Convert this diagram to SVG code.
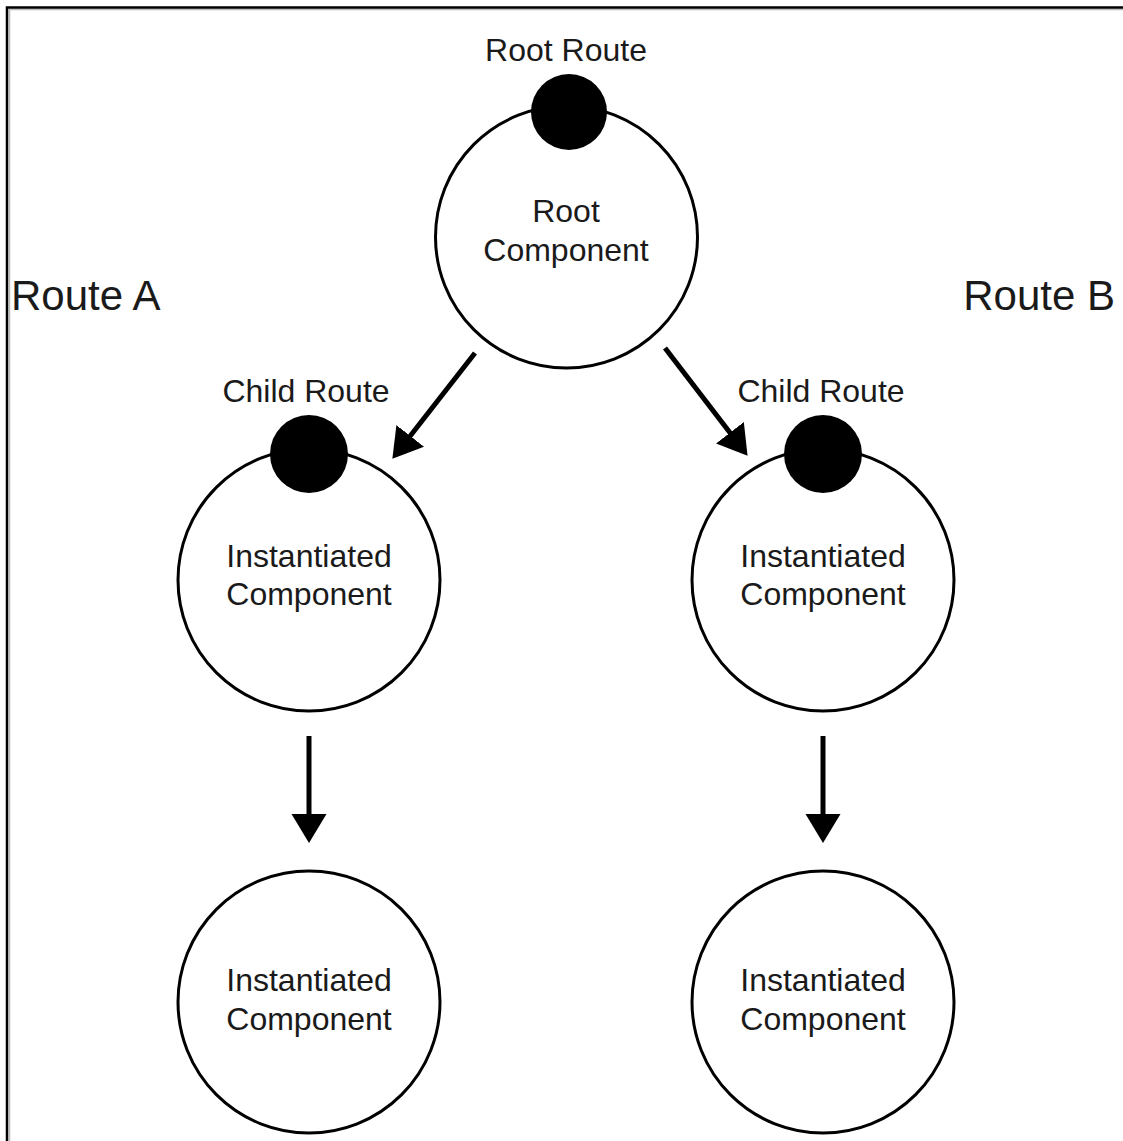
<svg xmlns="http://www.w3.org/2000/svg" width="1123" height="1141" viewBox="0 0 1123 1141">
<style>
.node{fill:#fff;stroke:#000;stroke-width:3}
.dot{fill:#000}
.t{font-family:"Liberation Sans",Arial,sans-serif;font-size:32px;fill:#1a1a1a;text-anchor:middle}
.big{font-family:"Liberation Sans",Arial,sans-serif;font-size:42px;fill:#1a1a1a}
.edge{stroke:#000;stroke-width:5;fill:none;marker-end:url(#ah)}
</style>
<defs>
<marker id="ah" markerUnits="userSpaceOnUse" markerWidth="30" markerHeight="36" refX="8" refY="17.5" orient="auto" viewBox="0 0 30 36">
<path d="M0,0 L29,17.5 L0,35 Z" fill="#000"/>
</marker>
</defs>
<rect width="1123" height="1141" fill="#fff"/>
<path d="M9.5,1141 V9.5 H1123" fill="none" stroke="#bbb" stroke-width="1.5"/>
<path d="M7,1141 V7.5 H1123" fill="none" stroke="#000" stroke-width="2.5"/>

<g id="root">
<circle class="node" cx="566.5" cy="237" r="131"/>
<circle class="dot" cx="569" cy="112" r="38"/>
<text class="t" x="566" y="61">Root Route</text>
<text class="t" x="566" y="222">Root</text>
<text class="t" x="566" y="261">Component</text>
</g>
<g id="routeA"><text class="big" x="11" y="310">Route A</text></g>
<g id="routeB"><text class="big" x="1115" y="310" text-anchor="end">Route B</text></g>

<g id="childA">
<circle class="node" cx="309" cy="580" r="131"/>
<circle class="dot" cx="309" cy="454" r="39"/>
<text class="t" x="306" y="402">Child Route</text>
<text class="t" x="309" y="567">Instantiated</text>
<text class="t" x="309" y="605">Component</text>
</g>
<g id="childB">
<circle class="node" cx="823" cy="580" r="131"/>
<circle class="dot" cx="823" cy="454" r="39"/>
<text class="t" x="821" y="402">Child Route</text>
<text class="t" x="823" y="567">Instantiated</text>
<text class="t" x="823" y="605">Component</text>
</g>
<g id="leafA">
<circle class="node" cx="309" cy="1002" r="131"/>
<text class="t" x="309" y="991">Instantiated</text>
<text class="t" x="309" y="1030">Component</text>
</g>
<g id="leafB">
<circle class="node" cx="823" cy="1002" r="131"/>
<text class="t" x="823" y="991">Instantiated</text>
<text class="t" x="823" y="1030">Component</text>
</g>

<g id="connectors">
<line class="edge" x1="475" y1="353" x2="405.3" y2="442.2"/>
<line class="edge" x1="665" y1="348" x2="734.8" y2="439.1"/>
<line class="edge" x1="309" y1="736" x2="309" y2="822"/>
<line class="edge" x1="823" y1="736" x2="823" y2="822"/>
</g>
</svg>
